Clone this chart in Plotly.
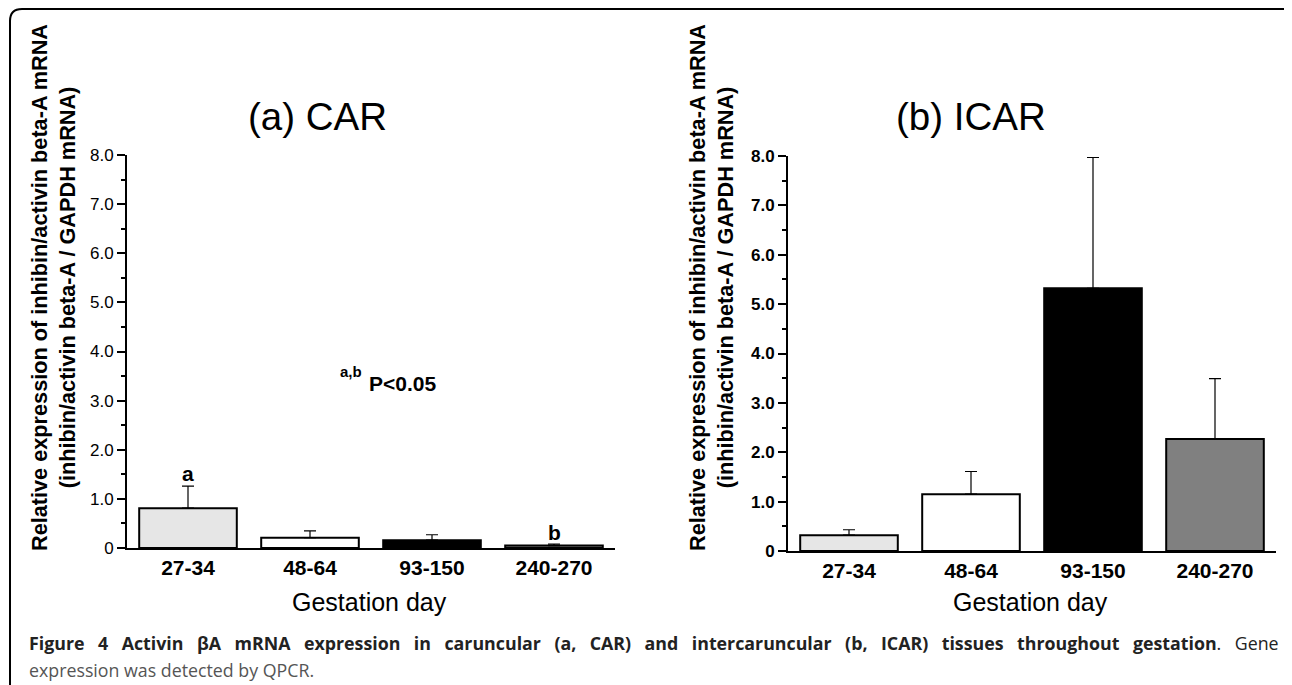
import plotly.graph_objects as go

# the page body adds an 8 px margin, so the figure is drawn 8 px right/down of the image origin
OFF = 8
IMG_W, IMG_H = 1292, 685
W, H = IMG_W - OFF, IMG_H - OFF

categories = ["27-34", "48-64", "93-150", "240-270"]
car_mean = [0.81, 0.21, 0.16, 0.05]
car_err = [0.45, 0.14, 0.11, 0.03]
icar_mean = [0.32, 1.15, 5.32, 2.27]
icar_err = [0.11, 0.46, 2.65, 1.22]
bar_colors = ["#e6e6e6", "#ffffff", "#000000", "#808080"]
ytick_vals = [0, 1, 2, 3, 4, 5, 6, 7, 8]
ytick_text = ["0", "1.0", "2.0", "3.0", "4.0", "5.0", "6.0", "7.0", "8.0"]
minor_vals = [0.5, 1.5, 2.5, 3.5, 4.5, 5.5, 6.5, 7.5]

FONT = "Liberation Sans, Arial, sans-serif"
CAP = "Open Sans, Noto Sans, sans-serif"


def px(x):
    return (x - OFF) / W


def py(y):
    return 1 - (y - OFF) / H


fig = go.Figure()
for means, errs, xa, ya in [(car_mean, car_err, "x", "y"), (icar_mean, icar_err, "x2", "y2")]:
    fig.add_trace(go.Bar(
        x=categories, y=means, width=0.8,
        marker=dict(color=bar_colors, line=dict(color="black", width=2)),
        error_y=dict(type="data", array=errs, arrayminus=[0] * len(errs), symmetric=False,
                     color="black", thickness=1.2, width=6),
        xaxis=xa, yaxis=ya, showlegend=False, hoverinfo="skip",
    ))

common_x = dict(type="category", range=[-0.5, 3.5], showline=True, linewidth=2, linecolor="black",
                ticks="", showgrid=False, zeroline=False,
                tickfont=dict(family=FONT, size=21, color="black", weight="bold"))


def yax(bold, domain, anchor):
    return dict(range=[0, 8], domain=domain, anchor=anchor, showline=True, linewidth=2, linecolor="black",
                tickmode="array", tickvals=ytick_vals, ticktext=ytick_text,
                ticks="outside", ticklen=8, tickwidth=1.5, tickcolor="black",
                minor=dict(tickmode="array", tickvals=minor_vals, ticks="outside", ticklen=4,
                           tickwidth=1.5, tickcolor="black"),
                showgrid=False, zeroline=False,
                tickfont=dict(family=FONT, size=17, color="black", weight="bold" if bold else "normal"))


fig.update_layout(
    width=W, height=H, margin=dict(l=0, r=0, t=0, b=0, autoexpand=False),
    paper_bgcolor="white", plot_bgcolor="white",
    xaxis=dict(common_x, domain=[px(127), px(615)], anchor="y"),
    yaxis=yax(False, [py(548), py(155)], "x"),
    xaxis2=dict(common_x, domain=[px(788), px(1276)], anchor="y2"),
    yaxis2=yax(True, [py(551), py(156)], "x2"),
)


def A(x, y, text, size, family=FONT, color="black", xanchor="center", yanchor="middle", **kw):
    return dict(x=px(x), y=py(y), xref="paper", yref="paper", text=text, showarrow=False,
                xanchor=xanchor, yanchor=yanchor, font=dict(family=family, size=size, color=color), **kw)


ann = []
ytitle = ("<b>Relative expression of inhibin/activin beta-A mRNA<br>"
          "(inhibin/activin beta-A / GAPDH mRNA)</b>")
for cx in (53, 711):
    ann.append(A(cx, 288, ytitle, 21.7, textangle=-90))
ann.append(A(317, 116, "(a) CAR", 38.5))
ann.append(A(971, 116, "(b) ICAR", 38.5))
for cx in (369, 1030):
    ann.append(A(cx, 602, "Gestation day", 25))
ann.append(dict(x=0, y=1.52, xref="x", yref="y", text="<b>a</b>", showarrow=False,
                xanchor="center", yanchor="middle", font=dict(family=FONT, size=21, color="black")))
ann.append(dict(x=3, y=0.31, xref="x", yref="y", text="<b>b</b>", showarrow=False,
                xanchor="center", yanchor="middle", font=dict(family=FONT, size=21, color="black")))
ann.append(A(351, 371, "<b>a,b</b>", 15))
ann.append(A(402, 383, "<b>P&lt;0.05</b>", 21))
gap = " &#8194;"
line1 = ("<b>" + gap.join("Figure 4 Activin βA mRNA expression in caruncular (a, CAR) and intercaruncular "
                          "(b, ICAR) tissues throughout gestation".split(" ")) + "</b>." + gap + "Gene")
ann.append(A(27, 643, line1, 17.8, family=CAP, color="#222222", xanchor="left"))
ann.append(A(27, 670, "expression was detected by QPCR.", 17.8, family=CAP, color="#555555", xanchor="left"))
fig.update_layout(annotations=ann)

# rounded frame (right edge runs just outside the picture)
path = (f"M {px(10)},{py(700)} L {px(10)},{py(21)} Q {px(10)},{py(9)} {px(22)},{py(9)} "
        f"L {px(1283)},{py(9)} Q {px(1291)},{py(9)} {px(1294)},{py(17)}")
fig.add_shape(type="path", path=path, xref="paper", yref="paper", line=dict(color="black", width=2))

fig.write_html("out.html")
